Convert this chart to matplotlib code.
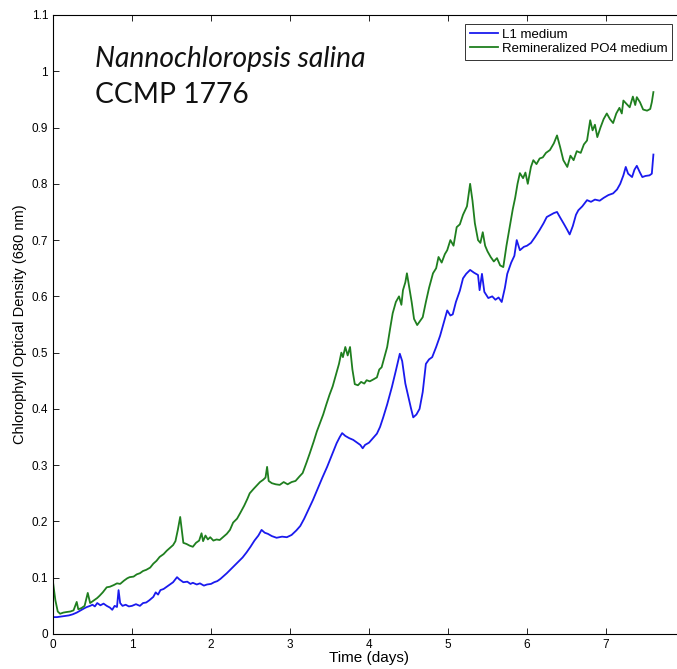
import numpy as np
import matplotlib
matplotlib.use('Agg')
import matplotlib.pyplot as plt
from matplotlib.ticker import FormatStrFormatter

# L1 medium (blue) - time in days, OD
l1_days = [0.00, 0.05, 0.10, 0.15, 0.20, 0.25, 0.30, 0.35, 0.40, 0.43, 0.47, 0.50, 0.53, 0.56, 0.60, 0.64,
           0.68, 0.72, 0.75, 0.78, 0.81, 0.83, 0.85, 0.88, 0.92, 0.96, 1.00, 1.05, 1.10, 1.14, 1.18, 1.22,
           1.27, 1.30, 1.33, 1.36, 1.40, 1.44, 1.48, 1.52, 1.57, 1.60, 1.65, 1.70, 1.74, 1.77, 1.82, 1.86,
           1.91, 1.95, 2.00, 2.04, 2.08, 2.12, 2.16, 2.20, 2.25, 2.30, 2.35, 2.40, 2.45, 2.50, 2.55, 2.60,
           2.64, 2.68, 2.72, 2.77, 2.83, 2.90, 2.96, 3.02, 3.08, 3.13, 3.18, 3.23, 3.29, 3.35, 3.41, 3.47,
           3.53, 3.59, 3.63, 3.66, 3.70, 3.75, 3.80, 3.85, 3.89, 3.92, 3.95, 4.00, 4.05, 4.10, 4.14, 4.18,
           4.23, 4.29, 4.34, 4.39, 4.42, 4.46, 4.50, 4.53, 4.56, 4.60, 4.64, 4.68, 4.72, 4.76, 4.80, 4.85,
           4.90, 4.95, 4.99, 5.03, 5.06, 5.10, 5.15, 5.19, 5.23, 5.28, 5.33, 5.38, 5.40, 5.43, 5.46, 5.51,
           5.56, 5.60, 5.64, 5.68, 5.72, 5.75, 5.80, 5.84, 5.87, 5.91, 5.96, 6.00, 6.05, 6.10, 6.16, 6.21,
           6.25, 6.30, 6.34, 6.38, 6.42, 6.47, 6.51, 6.54, 6.58, 6.62, 6.65, 6.70, 6.76, 6.81, 6.86, 6.92,
           6.97, 7.03, 7.09, 7.14, 7.18, 7.22, 7.25, 7.28, 7.33, 7.36, 7.39, 7.43, 7.46, 7.50, 7.55, 7.58,
           7.60]
l1_od = [0.030, 0.030, 0.031, 0.032, 0.033, 0.035, 0.038, 0.042, 0.046, 0.048, 0.050, 0.052, 0.049, 0.055, 0.051, 0.054,
         0.050, 0.047, 0.043, 0.050, 0.048, 0.078, 0.055, 0.050, 0.052, 0.049, 0.050, 0.053, 0.050, 0.055, 0.056, 0.060,
         0.066, 0.074, 0.070, 0.078, 0.080, 0.084, 0.088, 0.092, 0.101, 0.097, 0.092, 0.093, 0.089, 0.091, 0.088, 0.090,
         0.086, 0.088, 0.089, 0.092, 0.094, 0.098, 0.103, 0.108, 0.115, 0.122, 0.129, 0.136, 0.145, 0.155, 0.166, 0.175,
         0.185, 0.180, 0.178, 0.174, 0.171, 0.173, 0.172, 0.176, 0.184, 0.192, 0.205, 0.220, 0.238, 0.258, 0.278, 0.297,
         0.318, 0.339, 0.350, 0.357, 0.352, 0.348, 0.345, 0.340, 0.336, 0.330, 0.336, 0.340, 0.348, 0.356, 0.368, 0.385,
         0.408, 0.439, 0.468, 0.498, 0.485, 0.445, 0.420, 0.402, 0.385, 0.390, 0.400, 0.430, 0.480, 0.488, 0.492, 0.510,
         0.530, 0.555, 0.575, 0.566, 0.568, 0.590, 0.610, 0.632, 0.640, 0.647, 0.642, 0.638, 0.611, 0.640, 0.608, 0.597,
         0.600, 0.594, 0.598, 0.590, 0.615, 0.640, 0.660, 0.672, 0.700, 0.682, 0.688, 0.690, 0.695, 0.705, 0.718, 0.730,
         0.741, 0.745, 0.748, 0.750, 0.740, 0.728, 0.718, 0.710, 0.725, 0.745, 0.753, 0.760, 0.771, 0.768, 0.772, 0.770,
         0.775, 0.780, 0.783, 0.790, 0.800, 0.815, 0.830, 0.818, 0.812, 0.825, 0.832, 0.820, 0.812, 0.814, 0.815, 0.818,
         0.852]

# Remineralized PO4 medium (green)
po4_days = [0.00, 0.03, 0.06, 0.09, 0.13, 0.17, 0.22, 0.26, 0.30, 0.32, 0.36, 0.40, 0.44, 0.47, 0.52, 0.56,
            0.59, 0.63, 0.68, 0.72, 0.77, 0.81, 0.85, 0.90, 0.94, 0.97, 1.02, 1.06, 1.10, 1.14, 1.18, 1.23,
            1.27, 1.31, 1.35, 1.40, 1.44, 1.48, 1.52, 1.55, 1.58, 1.61, 1.63, 1.65, 1.69, 1.73, 1.77, 1.81,
            1.85, 1.88, 1.90, 1.93, 1.96, 1.99, 2.03, 2.07, 2.11, 2.15, 2.20, 2.24, 2.28, 2.33, 2.37, 2.42,
            2.46, 2.49, 2.54, 2.58, 2.62, 2.66, 2.69, 2.71, 2.73, 2.77, 2.82, 2.87, 2.92, 2.97, 3.02, 3.07,
            3.12, 3.16, 3.21, 3.25, 3.30, 3.34, 3.38, 3.42, 3.46, 3.50, 3.54, 3.58, 3.62, 3.65, 3.67, 3.70,
            3.73, 3.76, 3.79, 3.82, 3.86, 3.90, 3.94, 3.97, 4.01, 4.05, 4.10, 4.13, 4.16, 4.20, 4.23, 4.27,
            4.30, 4.34, 4.38, 4.41, 4.43, 4.46, 4.48, 4.51, 4.54, 4.57, 4.61, 4.64, 4.68, 4.72, 4.76, 4.81,
            4.85, 4.88, 4.92, 4.96, 4.99, 5.03, 5.07, 5.11, 5.15, 5.19, 5.24, 5.26, 5.28, 5.31, 5.34, 5.38,
            5.41, 5.44, 5.47, 5.50, 5.54, 5.58, 5.62, 5.66, 5.70, 5.74, 5.78, 5.82, 5.85, 5.88, 5.91, 5.95,
            5.98, 6.01, 6.05, 6.08, 6.12, 6.16, 6.20, 6.24, 6.29, 6.34, 6.38, 6.42, 6.46, 6.51, 6.55, 6.59,
            6.63, 6.68, 6.72, 6.76, 6.80, 6.83, 6.86, 6.89, 6.93, 6.97, 7.01, 7.05, 7.09, 7.13, 7.17, 7.20,
            7.22, 7.26, 7.30, 7.34, 7.37, 7.39, 7.43, 7.47, 7.52, 7.56, 7.58, 7.60]
po4_od = [0.092, 0.060, 0.040, 0.036, 0.038, 0.039, 0.040, 0.042, 0.057, 0.044, 0.046, 0.050, 0.073, 0.055, 0.060, 0.064,
          0.068, 0.074, 0.083, 0.084, 0.087, 0.090, 0.089, 0.095, 0.099, 0.101, 0.102, 0.106, 0.108, 0.112, 0.114, 0.118,
          0.125, 0.130, 0.137, 0.142, 0.148, 0.153, 0.158, 0.165, 0.185, 0.208, 0.185, 0.162, 0.160, 0.157, 0.155, 0.162,
          0.166, 0.179, 0.165, 0.175, 0.168, 0.172, 0.166, 0.168, 0.167, 0.172, 0.178, 0.185, 0.198, 0.205, 0.215, 0.228,
          0.240, 0.250, 0.258, 0.264, 0.270, 0.274, 0.278, 0.297, 0.272, 0.268, 0.266, 0.265, 0.270, 0.266, 0.270, 0.272,
          0.280, 0.286, 0.305, 0.321, 0.342, 0.360, 0.375, 0.390, 0.408, 0.425, 0.440, 0.460, 0.480, 0.500, 0.492, 0.510,
          0.495, 0.510, 0.470, 0.444, 0.442, 0.448, 0.445, 0.451, 0.449, 0.452, 0.456, 0.470, 0.474, 0.495, 0.510, 0.545,
          0.570, 0.590, 0.600, 0.585, 0.611, 0.625, 0.641, 0.615, 0.590, 0.560, 0.549, 0.555, 0.563, 0.590, 0.615, 0.641,
          0.650, 0.670, 0.660, 0.675, 0.682, 0.700, 0.690, 0.723, 0.728, 0.745, 0.760, 0.780, 0.800, 0.770, 0.730, 0.700,
          0.695, 0.714, 0.690, 0.680, 0.670, 0.662, 0.668, 0.655, 0.652, 0.690, 0.723, 0.755, 0.775, 0.800, 0.819, 0.810,
          0.820, 0.800, 0.830, 0.842, 0.835, 0.845, 0.847, 0.855, 0.860, 0.872, 0.886, 0.865, 0.842, 0.830, 0.850, 0.842,
          0.858, 0.855, 0.870, 0.877, 0.913, 0.895, 0.905, 0.883, 0.900, 0.915, 0.925, 0.915, 0.908, 0.925, 0.935, 0.925,
          0.948, 0.942, 0.936, 0.955, 0.940, 0.954, 0.945, 0.932, 0.930, 0.933, 0.945, 0.963]

x_ticks = [0, 1, 2, 3, 4, 5, 6, 7, 8]
y_ticks = [0, 0.1, 0.2, 0.3, 0.4, 0.5, 0.6, 0.7, 0.8, 0.9, 1, 1.1]

plt.rcParams['font.family'] = ['Liberation Sans', 'DejaVu Sans']

fig = plt.figure(figsize=(6.77, 6.69), dpi=100)
# axes run a bit past the right edge, the original is cropped there
ax = fig.add_axes([53/677, 35/669, 632/677, 619/669])

ax.plot(l1_days, l1_od, color='#1a1aee', lw=1.3, label='L1 medium')
ax.plot(po4_days, po4_od, color='#1f7f1f', lw=1.3, label='Remineralized PO4 medium')

ax.set_xlim(0, 8)
ax.set_ylim(0, 1.1)
ax.set_xticks(x_ticks)
ax.set_yticks(y_ticks)
ax.yaxis.set_major_formatter(FormatStrFormatter('%g'))
ax.tick_params(direction='in', top=True, right=True, labelsize=8.5, length=4, width=0.6)
for s in ax.spines.values():
    s.set_linewidth(0.8)

ax.set_xlabel('Time (days)', fontsize=11, labelpad=0)
ax.set_ylabel('Chlorophyll Optical Density (680 nm)', fontsize=10.5, labelpad=3)

leg = ax.legend(loc='upper right', bbox_to_anchor=(672/677, 1 - 24/669), bbox_transform=fig.transFigure,
                borderaxespad=0, fancybox=False, edgecolor='black', fontsize=9.5, handlelength=2.1,
                handletextpad=0.3, borderpad=0.35, labelspacing=0.15)
leg.get_frame().set_linewidth(0.7)

fig.text(95/677, 1 - 67/669, 'Nannochloropsis salina', fontsize=20.3, style='italic', family='Lato',
         color='#111111', va='baseline')
fig.text(95/677, 1 - 103/669, 'CCMP 1776', fontsize=20.3, family='Lato', color='#111111', va='baseline')

fig.savefig('out.png', dpi=100)
